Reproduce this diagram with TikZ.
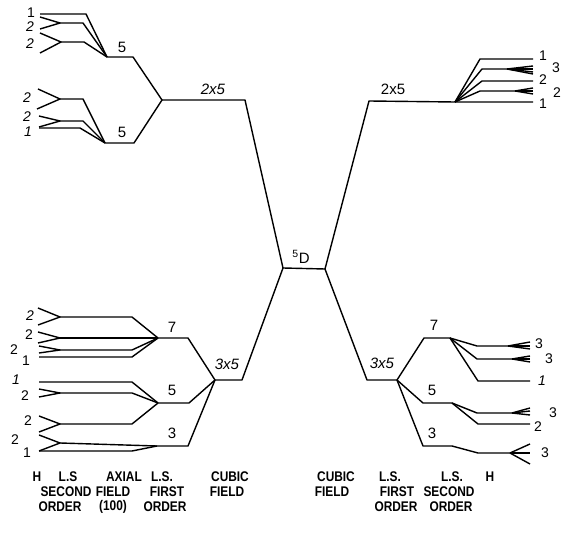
\documentclass[tikz,border=0pt]{standalone}
\usepackage{fontspec}
\setmainfont{Liberation Sans}
\newfontfamily\captfont[FakeStretch=0.85]{Liberation Sans}
\begin{document}
\begin{tikzpicture}[x=1pt,y=-1pt,line width=1.4pt,line join=round,
    lvl/.style={font=\fontsize{15}{17}\selectfont},
    term/.style={font=\fontsize{14}{16}\selectfont},
    capt/.style={font=\captfont\bfseries\fontsize{14}{16}\selectfont}]
    \useasboundingbox (0,0) rectangle (563,537);

    % Junctions
    \coordinate (ta) at (107,57);
    \coordinate (tb) at (105,143);
    \coordinate (axL) at (162,100);
    \coordinate (cubL) at (245,100);
    \coordinate (dL) at (283,268);
    \coordinate (dR) at (325,269);
    \coordinate (cubR) at (369,101);
    \coordinate (axR) at (455,102);
    \coordinate (lcL) at (242,380);
    \coordinate (lsL) at (215,380);
    \coordinate (lcR) at (367,380);
    \coordinate (lsR) at (397,380);
    \coordinate (j7L) at (158,338);
    \coordinate (j5L) at (158,403);
    \coordinate (j3L) at (157,446);
    \coordinate (j7R) at (450,338);
    \coordinate (j5R) at (452,403);
    \coordinate (j3R) at (452,446);

    % Cubic field and 5D
    \draw (axL) -- (cubL) -- (dL) -- (dR) -- (cubR) -- (axR) -- (533,102);
    \draw (dL) -- (lcL) -- (lsL);
    \draw (dR) -- (lcR) -- (lsR);

    % Axial field, top left
    \draw (ta) -- (133,57) -- (axL) -- (134,143) -- (tb);
    \draw (ta) -- (86,14) -- (40,14);
    \draw (ta) -- (83,23) -- (60,23);
    \draw (40,17) -- (60,23) -- (40,29);
    \draw (ta) -- (84,42) -- (61,42);
    \draw (40,33) -- (61,42) -- (40,53);
    \draw (tb) -- (83,99) -- (60,99);
    \draw (38,89) -- (60,99) -- (37,109);
    \draw (tb) -- (83,121) -- (60,121);
    \draw (39,116) -- (60,121) -- (39,127);
    \draw (tb) -- (80,128) -- (39,128);

    % Top right
    \draw (axR) -- (480,59) -- (533,59);
    \draw (axR) -- (482,69) -- (507,69);
    \foreach \y in {66,69,72,74} {
        \draw (507,69) -- (533,\y);
    }
    \draw (axR) -- (482,81) -- (533,81);
    \draw (axR) -- (480,91) -- (515,91);
    \foreach \y in {88,91,94} {
        \draw (515,91) -- (533,\y);
    }

    % Spin-orbit, bottom left
    \draw (lsL) -- (188,338) -- (j7L);
    \draw (lsL) -- (189,403) -- (j5L);
    \draw (lsL) -- (188,446) -- (j3L);
    \draw (j7L) -- (132,317) -- (60,317);
    \draw (38,308) -- (60,317) -- (38,325);
    \draw (j7L) -- (60,338);
    \draw (38,332) -- (60,338) -- (38,343);
    \draw (j7L) -- (132,350) -- (60,350);
    \draw (39,346) -- (60,350) -- (39,353);
    \draw (j7L) -- (132,357) -- (39,357);
    \draw (j5L) -- (132,382) -- (39,382);
    \draw (j5L) -- (132,393) -- (60,393);
    \draw (39,389) -- (60,393) -- (39,397);
    \draw (j5L) -- (132,424) -- (60,424);
    \draw (39,416) -- (60,424) -- (39,432);
    \draw (j3L) -- (60,443);
    \draw (39,435) -- (60,443) -- (39,451);
    \draw (j3L) -- (132,451) -- (39,451);

    % Spin-orbit, bottom right
    \draw (lsR) -- (424,338) -- (j7R);
    \draw (lsR) -- (423,403) -- (j5R);
    \draw (lsR) -- (423,446) -- (j3R);
    \draw (j7R) -- (477,346) -- (508,346);
    \foreach \y in {342,346,349} {
        \draw (508,346) -- (530,\y);
    }
    \draw (j7R) -- (477,359) -- (512,359);
    \foreach \y in {356,359,362} {
        \draw (512,359) -- (530,\y);
    }
    \draw (j7R) -- (478,381) -- (530,381);
    \draw (j5R) -- (477,413) -- (512,413);
    \foreach \y in {408,411,415} {
        \draw (512,413) -- (530,\y);
    }
    \draw (j5R) -- (478,424) -- (530,424);
    \draw (j3R) -- (478,453) -- (510,453);
    \foreach \y in {444,453,464} {
        \draw (510,453) -- (530,\y);
    }

    % Level labels
    \node[lvl] (D5) at (301,257) {\textsuperscript{5}D};
    \node[lvl] (n2x5L) at (213,89) {\itshape 2x5};
    \node[lvl] (n2x5R) at (393,89) {2x5};
    \node[lvl] (n3x5L) at (227,364) {\itshape 3x5};
    \node[lvl] (n3x5R) at (382,363) {\itshape 3x5};
    \node[lvl] (n5a) at (122,47) {5};
    \node[lvl] (n5b) at (122,132) {5};
    \node[lvl] (n7L) at (172,327) {7};
    \node[lvl] (n5L) at (172,390) {5};
    \node[lvl] (n3L) at (172,433) {3};
    \node[lvl] (n7R) at (434,325) {7};
    \node[lvl] (n5R) at (432,390) {5};
    \node[lvl] (n3R) at (432,433) {3};

    % Term labels, left
    \node[term] (ta1) at (31,13) {1};
    \node[term] (ta2) at (30,27) {\itshape 2};
    \node[term] (ta3) at (30,44) {\itshape 2};
    \node[term] (tb1) at (27,98) {\itshape 2};
    \node[term] (tb2) at (27,117) {\itshape 2};
    \node[term] (tb3) at (28,132) {\itshape 1};
    \node[term] (s7a) at (30,316) {\itshape 2};
    \node[term] (s7b) at (29,335) {2};
    \node[term] (s7c) at (14,350) {2};
    \node[term] (s7d) at (26,361) {1};
    \node[term] (s5a) at (16,380) {\itshape 1};
    \node[term] (s5b) at (25,396) {2};
    \node[term] (s5c) at (28,421) {2};
    \node[term] (s3a) at (15,440) {2};
    \node[term] (s3b) at (27,453) {1};

    % Term labels, right
    \node[term] (r1) at (543,56) {1};
    \node[term] (r2) at (556,68) {3};
    \node[term] (r3) at (543,80) {2};
    \node[term] (r4) at (557,93) {2};
    \node[term] (r5) at (543,104) {1};
    \node[term] (q7a) at (539,344) {3};
    \node[term] (q7b) at (549,359) {3};
    \node[term] (q7c) at (542,381) {\itshape 1};
    \node[term] (q5a) at (553,413) {3};
    \node[term] (q5b) at (538,427) {2};
    \node[term] (q3a) at (545,453) {3};

    % Captions
    \foreach \x/\t [count=\i] in {37/H,68/L.S,124/AXIAL,162/L.S.,230/CUBIC,336/CUBIC,390/L.S.,452/L.S.,490/H} {
        \node[capt] (capA\i) at (\x,477) {\t};
    }
    \foreach \x/\t [count=\i] in {66/SECOND,113/FIELD,167/FIRST,227/FIELD,332/FIELD,397/FIRST,449/SECOND} {
        \node[capt] (capB\i) at (\x,492) {\t};
    }
    \foreach \x/\t [count=\i] in {60/ORDER,113/(100),165/ORDER,396/ORDER,451/ORDER} {
        \node[capt] (capC\i) at (\x,507) {\t};
    }
\end{tikzpicture}
\end{document}
